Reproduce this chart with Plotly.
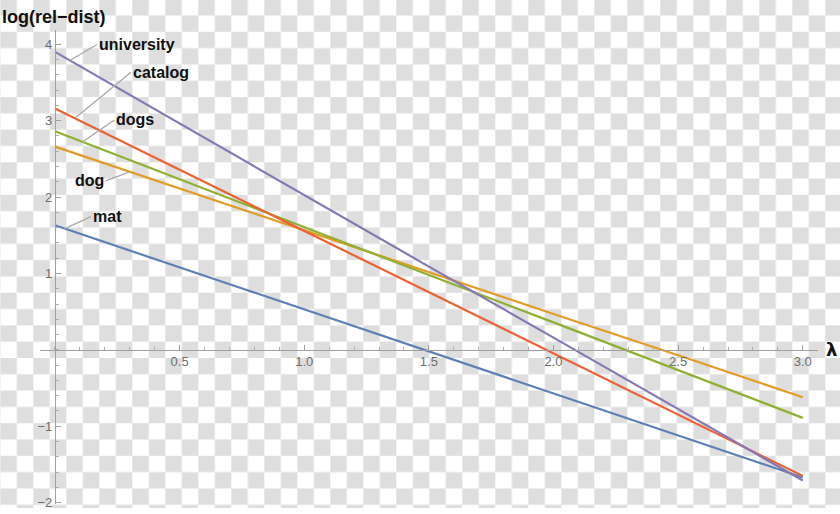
# log(rel-dist) vs lambda, Mathematica-style plot
import base64
import numpy as np
import plotly.graph_objects as go

lam = [0.0, 0.5, 1.0, 1.5, 2.0, 2.5, 3.0]
university = [3.90, 2.96, 2.03, 1.09, 0.16, -0.78, -1.71]
catalog = [3.16, 2.36, 1.56, 0.75, -0.05, -0.85, -1.65]
dogs = [2.86, 2.23, 1.61, 0.98, 0.36, -0.27, -0.89]
dog = [2.66, 2.11, 1.57, 1.02, 0.47, -0.07, -0.62]
mat = [1.63, 1.08, 0.53, -0.02, -0.57, -1.12, -1.67]

x_ticks = [0.5, 1.0, 1.5, 2.0, 2.5, 3.0]
y_ticks = [-2, -1, 1, 2, 3, 4]

W, H = 840, 514

series = [
    ("mat", mat, "#5E81B5"),
    ("dog", dog, "#E19C24"),
    ("dogs", dogs, "#8FB032"),
    ("catalog", catalog, "#EB6235"),
    ("university", university, "#8778B3"),
]

fig = go.Figure()
for name, vals, col in series:
    fig.add_trace(go.Scatter(x=lam, y=vals, mode="lines", name=name,
                             line=dict(color=col, width=2.2)))

# checkerboard backdrop (transparent png look)
svg = (
    f'<svg xmlns="http://www.w3.org/2000/svg" width="{W}" height="{H}">'
    '<defs><pattern id="c" width="33" height="33" patternUnits="userSpaceOnUse" x="0.3" y="-0.8">'
    '<rect width="33" height="33" fill="#ffffff"/>'
    '<rect width="16.5" height="16.5" fill="#dedede"/>'
    '<rect x="16.5" y="16.5" width="16.5" height="16.5" fill="#dedede"/>'
    '</pattern></defs>'
    f'<rect width="{W}" height="{H}" fill="url(#c)"/></svg>'
)
src = "data:image/svg+xml;base64," + base64.b64encode(svg.encode()).decode()
fig.add_layout_image(dict(source=src, xref="paper", yref="paper", x=0, y=1,
                          sizex=1, sizey=1, xanchor="left", yanchor="top",
                          sizing="stretch", layer="below"))

# axes placed so that they cross at the origin
xr = [-0.060, 3.061]
yr = [-2.018, 4.191]
xdom = [40 / W, 818 / W]
ydom = [(H - 510) / H, (H - 30) / H]
ypos = xdom[0] + (0 - xr[0]) / (xr[1] - xr[0]) * (xdom[1] - xdom[0])
xpos = ydom[0] + (0 - yr[0]) / (yr[1] - yr[0]) * (ydom[1] - ydom[0])

tickfont = dict(family="Liberation Sans", size=13, color="#6e6e6e")
fig.update_xaxes(range=xr, domain=xdom, anchor="free", position=xpos,
                 showgrid=False, zeroline=False, showline=True,
                 linecolor="#a0a0a0", linewidth=1,
                 ticks="inside", ticklen=5, tickcolor="#a0a0a0",
                 tickvals=x_ticks, ticktext=[f"{v:.1f}" for v in x_ticks],
                 ticklabeloverflow="allow",
                 tickfont=tickfont, minor=dict(dtick=0.1, tick0=0, ticks="inside",
                                               ticklen=3, tickcolor="#b0b0b0"))
fig.update_yaxes(range=yr, domain=ydom, anchor="free", position=ypos,
                 showgrid=False, zeroline=False, showline=True,
                 linecolor="#a0a0a0", linewidth=1,
                 ticks="inside", ticklen=5, tickcolor="#a0a0a0",
                 tickvals=y_ticks, ticktext=[str(v).replace("-", "\u2212") for v in y_ticks],
                 ticklabeloverflow="allow",
                 tickfont=tickfont, minor=dict(dtick=0.2, tick0=0, ticks="inside",
                                               ticklen=3, tickcolor="#b0b0b0"))

labfont = dict(family="Liberation Sans", size=16, color="#111111")

# callout labels
callouts = [
    ("university", university, 0.06, 27, -16, "left"),
    ("catalog", catalog, 0.08, 56, -46, "left"),
    ("dogs", dogs, 0.11, 32, -22, "left"),
    ("dog", dog, 0.30, -24, 9, "right"),
    ("mat", mat, 0.04, 26, -12, "left"),
]
for name, vals, at, ax, ay, anch in callouts:
    fig.add_annotation(x=at, y=float(np.interp(at, lam, vals)), text=f"<b>{name}</b>",
                       showarrow=True, arrowhead=0, arrowwidth=1.3, arrowcolor="#a9a9a9",
                       ax=ax, ay=ay, xanchor=anch, yanchor="middle", font=labfont,
                       standoff=0, borderpad=1)

fig.add_annotation(xref="paper", yref="paper", x=0.0, y=1 - 17 / H,
                   text="<b>log(rel\u2212dist)</b>",
                   showarrow=False, xanchor="left", yanchor="middle",
                   font=dict(family="Liberation Sans", size=18, color="#111111"))
fig.add_annotation(xref="paper", yref="paper", x=831 / W, y=xpos, text="<b>\u03bb</b>",
                   showarrow=False, xanchor="center", yanchor="middle",
                   font=dict(family="DejaVu Sans", size=18, color="#111111"))

fig.update_layout(width=W, height=H, margin=dict(l=0, r=0, t=0, b=0),
                  paper_bgcolor="white", plot_bgcolor="rgba(0,0,0,0)",
                  showlegend=False)

# drop the default page margin so the 840x514 figure fills the window
fig.write_html("out.html", config={"displayModeBar": False},
               post_script="document.body.style.margin='0px';")
